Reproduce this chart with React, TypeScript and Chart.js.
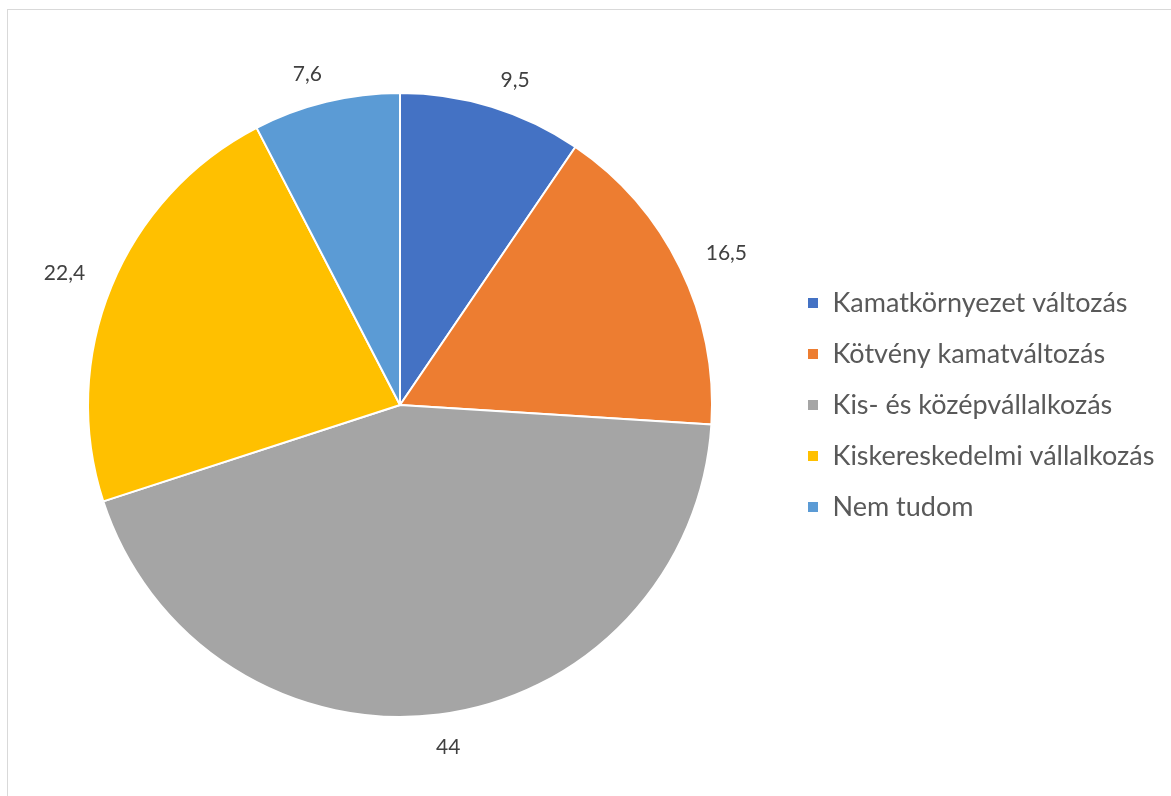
import React, { useEffect, useRef } from "react";
import { Chart, registerables } from "chart.js";

Chart.register(...registerables);

const categories = [
  "Kamatkörnyezet változás",
  "Kötvény kamatváltozás",
  "Kis- és középvállalkozás",
  "Kiskereskedelmi vállalkozás",
  "Nem tudom",
];
const values = [9.5, 16.5, 44, 22.4, 7.6];
const valueLabels = ["9,5", "16,5", "44", "22,4", "7,6"];
const colors = ["#4472C4", "#ED7D31", "#A5A5A5", "#FFC000", "#5B9BD5"];

const LEGEND_FONT = 27;
const LEGEND_PAD = 24;
const BOX = 12;

const outsideLabels = {
  id: "outsideLabels",
  afterDatasetsDraw(chart: any) {
    const ctx = chart.ctx;
    const meta = chart.getDatasetMeta(0);
    ctx.save();
    ctx.font = "21px Lato";
    ctx.fillStyle = "#404040";
    ctx.textAlign = "center";
    ctx.textBaseline = "middle";
    meta.data.forEach((arc: any, i: number) => {
      const { x, y, startAngle, endAngle, outerRadius } = arc.getProps(
        ["x", "y", "startAngle", "endAngle", "outerRadius"],
        true
      );
      const mid = (startAngle + endAngle) / 2;
      const s = Math.cos(mid);
      const c = -Math.sin(mid);
      const R = outerRadius + 24;
      const px = x + R * Math.cos(mid);
      const py = y + R * Math.sin(mid);
      const text = valueLabels[i];
      const w = ctx.measureText(text).width;
      const h = 16;
      const ox = Math.sign(s) * (w / 2 + 4) * Math.min(1, Math.abs(s) * 3);
      const oy = c > 0 ? -(h / 2 - 4) : h / 2 + 1;
      ctx.fillText(text, px + ox, py + oy);
    });
    ctx.restore();
  },
};

export default function App() {
  const ref = useRef<HTMLCanvasElement | null>(null);

  useEffect(() => {
    if (!ref.current) return;
    const mctx = document.createElement("canvas").getContext("2d")!;
    mctx.font = `${LEGEND_FONT}px Lato`;
    const maxText = Math.max(...categories.map((t) => mctx.measureText(t).width));
    const legendWidth = LEGEND_PAD + BOX + LEGEND_FONT / 2 + maxText + 10;
    const legendLeft = 807 - LEGEND_PAD;
    const padRight = Math.max(0, 1171 - legendLeft - legendWidth);
    const padLeft = 800 - legendLeft;

    const chart = new Chart(ref.current, {
      type: "pie",
      data: {
        labels: categories,
        datasets: [
          {
            data: values,
            backgroundColor: colors,
            borderColor: "#ffffff",
            borderWidth: 2,
            hoverOffset: 0,
          },
        ],
      },
      options: {
        responsive: false,
        animation: false,
        events: [],
        layout: { padding: { left: padLeft, right: padRight, top: 92, bottom: 78 } },
        plugins: {
          tooltip: { enabled: false },
          legend: {
            position: "right",
            labels: {
              boxWidth: BOX,
              boxHeight: BOX,
              padding: LEGEND_PAD,
              color: "#595959",
              font: { family: "Lato", size: LEGEND_FONT },
            },
          },
        },
      } as any,
      plugins: [outsideLabels],
    });
    return () => chart.destroy();
  }, []);

  return (
    <div style={{ position: "fixed", left: 0, top: 0, width: 1171, height: 796, background: "#fff" }}>
      <div
        style={{
          position: "absolute",
          left: 7,
          top: 9,
          width: 1164,
          height: 787,
          borderTop: "1px solid #d9d9d9",
          borderLeft: "1px solid #d9d9d9",
          boxSizing: "border-box",
        }}
      />
      <canvas
        ref={ref}
        width={1171}
        height={796}
        style={{ position: "absolute", left: 0, top: 0, width: 1171, height: 796 }}
      />
    </div>
  );
}
